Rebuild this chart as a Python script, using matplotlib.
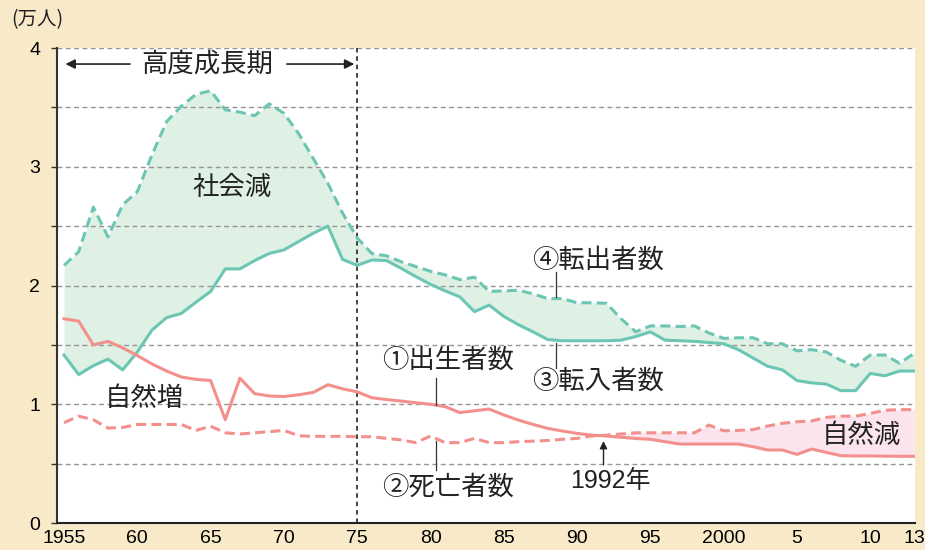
import numpy as np
import matplotlib
matplotlib.use("Agg")
import matplotlib.pyplot as plt

plt.rcParams['font.family'] = ['Noto Sans CJK JP', 'DejaVu Sans']

years = np.arange(1955, 2014)

# ③ 転入者数 (万人)
tennyu = [1.415, 1.25, 1.325, 1.38, 1.29, 1.44, 1.625, 1.73, 1.765, 1.86,
          1.95, 2.14, 2.14, 2.21, 2.27, 2.30, 2.37, 2.44, 2.50, 2.22,
          2.17, 2.215, 2.21, 2.145, 2.075, 2.01, 1.955, 1.905, 1.78, 1.835,
          1.74, 1.67, 1.61, 1.545, 1.535, 1.535, 1.535, 1.535, 1.54, 1.57,
          1.61, 1.54, 1.535, 1.53, 1.52, 1.51, 1.46, 1.39, 1.32, 1.29,
          1.20, 1.18, 1.17, 1.115, 1.115, 1.26, 1.24, 1.28, 1.28]

# ④ 転出者数
tenshutsu = [2.17, 2.285, 2.66, 2.41, 2.68, 2.79, 3.10, 3.38, 3.51, 3.61,
             3.64, 3.48, 3.46, 3.43, 3.53, 3.45, 3.28, 3.07, 2.86, 2.61,
             2.40, 2.27, 2.25, 2.20, 2.16, 2.12, 2.09, 2.05, 2.07, 1.95,
             1.955, 1.96, 1.93, 1.89, 1.89, 1.855, 1.855, 1.85, 1.72, 1.61,
             1.66, 1.66, 1.655, 1.66, 1.60, 1.555, 1.56, 1.56, 1.51, 1.51,
             1.45, 1.46, 1.44, 1.37, 1.32, 1.415, 1.415, 1.345, 1.43]

# ① 出生者数
shussei = [1.72, 1.70, 1.50, 1.53, 1.475, 1.41, 1.34, 1.28, 1.23, 1.21,
           1.20, 0.87, 1.22, 1.09, 1.07, 1.065, 1.08, 1.10, 1.165, 1.13,
           1.105, 1.055, 1.04, 1.027, 1.013, 1.00, 0.98, 0.93, 0.945, 0.96,
           0.91, 0.867, 0.83, 0.797, 0.775, 0.755, 0.74, 0.733, 0.722, 0.712,
           0.705, 0.685, 0.665, 0.665, 0.665, 0.665, 0.665, 0.643, 0.615, 0.615,
           0.578, 0.623, 0.595, 0.567, 0.565, 0.565, 0.563, 0.562, 0.562]

# ② 死亡者数
shibou = [0.845, 0.90, 0.87, 0.80, 0.805, 0.83, 0.83, 0.83, 0.83, 0.78,
          0.815, 0.76, 0.75, 0.76, 0.77, 0.78, 0.735, 0.73, 0.73, 0.73,
          0.727, 0.727, 0.713, 0.70, 0.677, 0.733, 0.677, 0.677, 0.713, 0.677,
          0.677, 0.685, 0.69, 0.695, 0.705, 0.713, 0.733, 0.74, 0.75, 0.76,
          0.76, 0.76, 0.76, 0.76, 0.825, 0.777, 0.78, 0.787, 0.817, 0.84,
          0.853, 0.86, 0.89, 0.90, 0.90, 0.923, 0.95, 0.955, 0.955]

xtick_pos = [1955, 1960, 1965, 1970, 1975, 1980, 1985, 1990, 1995, 2000, 2005, 2010, 2013]
xtick_lab = ['1955', '60', '65', '70', '75', '80', '85', '90', '95', '2000', '5', '10', '13']

tennyu = np.array(tennyu)
tenshutsu = np.array(tenshutsu)
shussei = np.array(shussei)
shibou = np.array(shibou)

teal = '#6cc6b3'
pink = '#f3908c'
cream = '#f8e9c9'

fig = plt.figure(figsize=(9.25, 5.5), dpi=100, facecolor=cream)
ax = fig.add_axes([0.0616, 0.049, 0.9276, 0.8637])
ax.set_facecolor('white')

# fills
ax.fill_between(years, tennyu, tenshutsu, color='#dff1e5', zorder=1, lw=0)
ax.fill_between(years, shussei, shibou, where=shibou >= shussei, interpolate=True,
                color='#fce4ee', zorder=1, lw=0)

# grid
for yv in np.arange(0.5, 4.01, 0.5):
    ax.axhline(yv, color='#959595', lw=1.0, dashes=(3.5, 2.5), zorder=2)
ax.axvline(1975, color='#111111', lw=1.1, dashes=(3, 2.5), zorder=2)

# lines
ax.plot(years, tennyu, color=teal, lw=2.2, zorder=3)
ax.plot(years, tenshutsu, color=teal, lw=2.2, dashes=(3.3, 1.7), zorder=3)
ax.plot(years, shussei, color=pink, lw=2.2, zorder=3)
ax.plot(years, shibou, color=pink, lw=2.2, dashes=(3.3, 1.7), zorder=3)

ax.set_xlim(1954.52, 2013.05)
ax.set_ylim(0, 4)

for s in ['top', 'right']:
    ax.spines[s].set_visible(False)
ax.spines['left'].set_color('#333333')
ax.spines['left'].set_linewidth(1.5)
ax.spines['bottom'].set_color('#222222')
ax.spines['bottom'].set_linewidth(1.5)
ax.spines['left'].set_zorder(4)
ax.spines['bottom'].set_zorder(4)

yt = np.arange(0, 4.01, 0.5)
ax.set_yticks(yt)
ax.set_yticklabels([str(int(v)) if v == int(v) else '' for v in yt],
                   fontfamily='Liberation Sans', fontsize=14)
ax.tick_params(axis='y', length=4, width=1, color='#333333', pad=8)
ax.set_xticks(xtick_pos)
ax.set_xticklabels(xtick_lab, fontfamily='Liberation Sans', fontsize=14)
ax.tick_params(axis='x', length=0, pad=5)

txt = dict(color='#222222', ha='center', va='center', zorder=5)

fig.text(0.040, 0.964, '(万人)', fontsize=14, **txt)

# 高度成長期
ax.text(1964.75, 3.865, '高度成長期', fontsize=19, **txt)
arr = dict(arrowstyle='-|>', color='#222222', lw=1.2, mutation_scale=14,
           shrinkA=0, shrinkB=0)
ax.annotate('', xy=(1955.1, 3.865), xytext=(1959.5, 3.865), arrowprops=arr)
ax.annotate('', xy=(1974.8, 3.865), xytext=(1970.2, 3.865), arrowprops=arr)

ax.text(1966.45, 2.83, '社会減', fontsize=19, **txt)
ax.text(1960.5, 1.05, '自然増', fontsize=19, **txt)
ax.text(2009.4, 0.74, '自然減', fontsize=19, **txt)

ax.text(1991.4, 2.215, '④転出者数', fontsize=19, **txt)
ax.text(1991.4, 1.19, '③転入者数', fontsize=19, **txt)
ax.text(1981.2, 1.37, '①出生者数', fontsize=19, **txt)
ax.text(1981.2, 0.30, '②死亡者数', fontsize=19, **txt)
ax.text(1992.3, 0.354, '1992年', fontsize=18,
        fontfamily=['Liberation Sans', 'Noto Sans CJK JP'], **txt)

# leader lines
lc = dict(color='#333333', lw=0.9, zorder=5)
ax.plot([1988.55, 1988.55], [2.11, 1.90], **lc)
ax.plot([1988.55, 1988.55], [1.52, 1.305], **lc)
ax.plot([1980.4, 1980.4], [1.22, 0.994], **lc)
ax.plot([1980.4, 1980.4], [0.69, 0.446], **lc)
ax.annotate('', xy=(1991.8, 0.69), xytext=(1991.8, 0.49),
            arrowprops=dict(arrowstyle='-|>', color='#222222', lw=1.0,
                            mutation_scale=11, shrinkA=0, shrinkB=0))

fig.savefig('out.png', dpi=100, facecolor=cream)
